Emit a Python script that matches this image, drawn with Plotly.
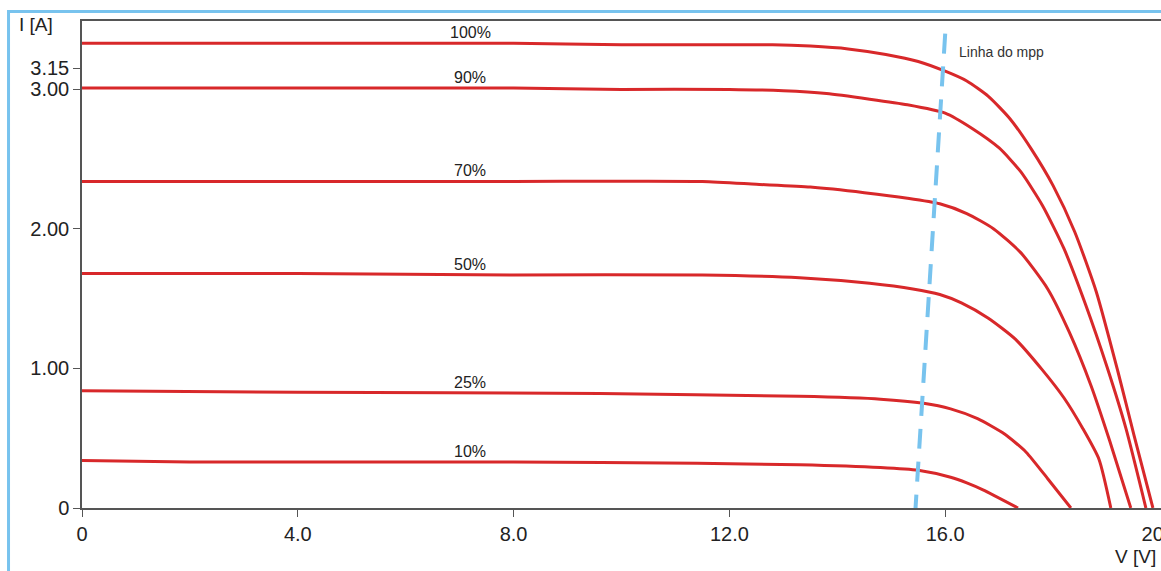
import numpy as np
import plotly.graph_objects as go

# I-V curves of a PV module at several irradiance levels (V in volts, I in amps)
levels = ["100%", "90%", "70%", "50%", "25%", "10%"]

v_100 = [0.0, 4.0, 8.0, 10.0, 12.0, 12.8, 13.5, 14.2, 14.9, 15.5, 16.0, 16.4, 16.8, 17.2, 17.6, 18.0, 18.4, 18.8, 19.2, 19.5, 19.85]
i_100 = [3.33, 3.33, 3.33, 3.32, 3.32, 3.32, 3.31, 3.29, 3.25, 3.20, 3.13, 3.06, 2.95, 2.79, 2.57, 2.31, 1.98, 1.55, 0.98, 0.52, 0.0]

v_90 = [0.0, 4.0, 8.0, 10.0, 12.0, 13.0, 13.8, 14.6, 15.3, 16.0, 16.5, 17.0, 17.4, 17.8, 18.2, 18.6, 19.0, 19.35, 19.72]
i_90 = [3.01, 3.01, 3.01, 3.0, 3.0, 2.99, 2.97, 2.93, 2.89, 2.83, 2.72, 2.58, 2.41, 2.17, 1.86, 1.46, 1.01, 0.57, 0.0]

v_70 = [0.0, 4.0, 8.0, 11.5, 12.5, 13.5, 14.5, 15.3, 15.9, 16.4, 16.9, 17.4, 17.9, 18.3, 18.7, 19.05, 19.44]
i_70 = [2.34, 2.34, 2.34, 2.34, 2.32, 2.30, 2.26, 2.22, 2.18, 2.11, 2.0, 1.83, 1.57, 1.26, 0.88, 0.48, 0.0]

v_50 = [0.0, 4.0, 8.0, 11.5, 13.3, 14.6, 15.4, 15.9, 16.3, 16.8, 17.3, 17.8, 18.2, 18.55, 18.85, 19.07]
i_50 = [1.68, 1.68, 1.67, 1.67, 1.65, 1.61, 1.57, 1.53, 1.47, 1.36, 1.21, 0.99, 0.79, 0.57, 0.35, 0.0]

v_25 = [0.0, 4.0, 9.6, 13.3, 14.8, 15.6, 16.1, 16.6, 17.1, 17.5, 17.9, 18.33]
i_25 = [0.84, 0.83, 0.82, 0.80, 0.78, 0.75, 0.71, 0.64, 0.53, 0.40, 0.21, 0.0]

v_10 = [0.0, 2.0, 8.0, 11.4, 13.3, 14.8, 15.5, 16.1, 16.4, 16.7, 17.35]
i_10 = [0.34, 0.33, 0.33, 0.32, 0.31, 0.29, 0.27, 0.22, 0.18, 0.13, 0.0]

# maximum power point line
mpp_v = [16.0, 15.45]
mpp_i = [3.40, 0.0]

x_ticks = [0, 4, 8, 12, 16, 20]
x_tick_text = ["0", "4.0", "8.0", "12.0", "16.0", "20.0"]
y_ticks = [0, 1, 2, 3, 3.15]
y_tick_text = ["0", "1.00", "2.00", "3.00", "3.15"]

label_v = 7.2  # voltage where the irradiance labels sit

curves = [(v_100, i_100), (v_90, i_90), (v_70, i_70), (v_50, i_50), (v_25, i_25), (v_10, i_10)]

RED = "#d8282a"
BLUE = "#78c3ee"
FONT = "Liberation Sans, Arial, sans-serif"

fig = go.Figure()

for name, (v, i) in zip(levels, curves):
    fig.add_trace(go.Scatter(
        x=v, y=i, mode="lines", name=name,
        line=dict(color=RED, width=3, shape="spline", smoothing=0.6),
        hoverinfo="x+y", showlegend=False,
    ))

fig.add_trace(go.Scatter(
    x=mpp_v, y=mpp_i, mode="lines", name="mpp",
    line=dict(color=BLUE, width=4, dash="20px,13px"),
    showlegend=False,
))

annotations = []
for name, (v, i) in zip(levels, curves):
    annotations.append(dict(
        x=label_v, y=float(np.interp(label_v, v, i)), xref="x", yref="y",
        text=name, showarrow=False, xanchor="center", yanchor="bottom",
        font=dict(family=FONT, size=16, color="#222"),
    ))

annotations.append(dict(
    x=16.22, y=3.27, xref="x", yref="y", text="Linha do mpp",
    showarrow=False, xanchor="left", yanchor="middle",
    font=dict(family=FONT, size=14, color="#333"),
))
annotations.append(dict(
    x=-0.0602, y=0.9918, xref="paper", yref="paper", text="I [A]",
    showarrow=False, xanchor="left", yanchor="middle",
    font=dict(family=FONT, size=19, color="#222"),
))
annotations.append(dict(
    x=0.997, y=-0.0986, xref="paper", yref="paper", text="V [V]",
    showarrow=False, xanchor="right", yanchor="middle",
    font=dict(family=FONT, size=19, color="#222"),
))

# light blue frame on the top and left edges
shapes = [
    dict(type="line", xref="paper", yref="paper", x0=-0.0681, x1=1.01, y0=1.0195, y1=1.0195,
         line=dict(color=BLUE, width=3)),
    dict(type="line", xref="paper", yref="paper", x0=-0.0681, x1=-0.0681, y0=1.0225, y1=-0.14,
         line=dict(color=BLUE, width=3)),
]

fig.update_layout(
    width=1161, height=571,
    margin=dict(l=82, r=0, t=21, b=63, autoexpand=False),
    paper_bgcolor="white", plot_bgcolor="white",
    font=dict(family=FONT, size=19, color="#222"),
    annotations=annotations, shapes=shapes,
    xaxis=dict(
        range=[0, 20.0], tickvals=x_ticks, ticktext=x_tick_text,
        showgrid=False, zeroline=False, showline=True, linecolor="#555", linewidth=1.5,
        mirror=True, ticks="outside", ticklen=7, tickcolor="#555", tickwidth=1,
        ticklabeloverflow="allow", automargin=False,
        tickfont=dict(family=FONT, size=20, color="#222"),
    ),
    yaxis=dict(
        range=[0, 3.49], tickvals=y_ticks, ticktext=y_tick_text,
        showgrid=False, zeroline=False, showline=True, linecolor="#555", linewidth=1.5,
        ticks="outside", ticklen=7, tickcolor="#555", tickwidth=1, automargin=False,
        tickfont=dict(family=FONT, size=20, color="#222"),
    ),
)

fig.write_html("out.html")
